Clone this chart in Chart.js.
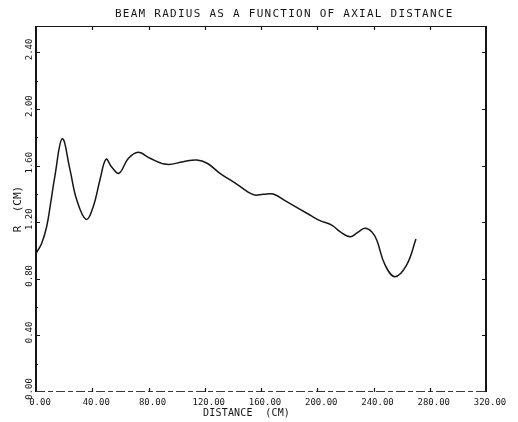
<!DOCTYPE html>
<html>
<head>
<meta charset="utf-8">
<script src="https://cdn.jsdelivr.net/npm/chart.js@4/dist/chart.umd.min.js"></script>
<style>
  html, body { margin: 0; padding: 0; background: #ffffff; }
  #wrap { width: 518px; height: 422px; position: relative; }
</style>
</head>
<body>
<div id="wrap"><canvas id="c" width="518" height="422"></canvas></div>
<script>
// Beam radius R (cm) against axial distance (cm)
const distance = [0, 4.0, 7.6, 10.5, 13.5, 18.7, 24.2, 28.9, 35.6, 40.7, 45.5, 49.8, 53.8, 59.0,
  65.6, 72.7, 81.1, 92.9, 104.7, 114.3, 122.0, 130.8, 142.7, 154.5, 161.6, 168.7, 178.3,
  194.8, 202.0, 210.3, 216.2, 223.3, 228.5, 233.9, 238.7, 242.3, 248.2, 255.3, 263.6, 270.2];
const radius = [0.98, 1.05, 1.17, 1.34, 1.53, 1.79, 1.57, 1.36, 1.22, 1.31, 1.50, 1.645, 1.59, 1.546,
  1.65, 1.694, 1.652, 1.609, 1.628, 1.64, 1.615, 1.546, 1.47, 1.395, 1.397, 1.399, 1.345,
  1.251, 1.211, 1.18, 1.133, 1.098, 1.126, 1.157, 1.133, 1.074, 0.898, 0.815, 0.898, 1.081];

const xTickValues = [0, 40, 80, 120, 160, 200, 240, 280, 320];
const yTickValues = [0, 0.4, 0.8, 1.2, 1.6, 2.0, 2.4];

const chartTitle = 'BEAM RADIUS AS A FUNCTION OF AXIAL DISTANCE';
const xTitle = 'DISTANCE  (CM)';
const yTitle = 'R  (CM)';

const MONO = '"DejaVu Sans Mono", "Liberation Mono", monospace';
const INK = '#161616';

// Plot frame, inward tick marks and the title lines
const framePlugin = {
  id: 'frame',
  afterDraw(chart) {
    const { ctx, chartArea: a, scales: { x, y } } = chart;
    ctx.save();
    ctx.strokeStyle = INK;
    ctx.lineCap = 'butt';

    // top edge
    ctx.lineWidth = 1.2;
    ctx.beginPath(); ctx.moveTo(a.left, a.top + 0.5); ctx.lineTo(a.right, a.top + 0.5); ctx.stroke();
    // bottom edge (broken pen line)
    ctx.strokeStyle = '#3a3a3a';
    ctx.lineWidth = 1;
    ctx.setLineDash([9, 3, 5, 3]);
    ctx.beginPath(); ctx.moveTo(a.left, a.bottom - 0.5); ctx.lineTo(a.right, a.bottom - 0.5); ctx.stroke();
    ctx.setLineDash([]);
    ctx.strokeStyle = INK;
    // left and right edges
    ctx.lineWidth = 2;
    ctx.beginPath(); ctx.moveTo(a.left, a.top); ctx.lineTo(a.left, a.bottom); ctx.stroke();
    ctx.beginPath(); ctx.moveTo(a.right, a.top); ctx.lineTo(a.right, a.bottom); ctx.stroke();

    // x ticks, pointing into the plot from top and bottom
    ctx.lineWidth = 1.2;
    xTickValues.slice(1, -1).forEach(v => {
      const px = Math.round(x.getPixelForValue(v)) + 0.5;
      ctx.beginPath();
      ctx.moveTo(px, a.bottom); ctx.lineTo(px, a.bottom - 4);
      ctx.moveTo(px, a.top); ctx.lineTo(px, a.top + 4);
      ctx.stroke();
    });
    // y ticks, pointing into the plot from left and right
    yTickValues.slice(1).forEach(v => {
      const py = Math.round(y.getPixelForValue(v)) + 0.5;
      ctx.beginPath();
      ctx.moveTo(a.left, py); ctx.lineTo(a.left + 4, py);
      ctx.moveTo(a.right, py); ctx.lineTo(a.right - 4, py);
      ctx.stroke();
    });
    // minor ticks on the left edge
    ctx.lineWidth = 1;
    yTickValues.slice(0, -1).forEach(v => {
      const py = Math.round(y.getPixelForValue(v + 0.2)) + 0.5;
      ctx.beginPath(); ctx.moveTo(a.left, py); ctx.lineTo(a.left + 2, py); ctx.stroke();
    });

    // chart title and x-axis title
    ctx.fillStyle = INK;
    ctx.textBaseline = 'middle';
    ctx.textAlign = 'left';
    ctx.font = '11px ' + MONO;
    if ('letterSpacing' in ctx) ctx.letterSpacing = '1.25px';
    ctx.fillText(chartTitle, 115, 14);
    ctx.font = '10px ' + MONO;
    if ('letterSpacing' in ctx) ctx.letterSpacing = '0.2px';
    ctx.fillText(xTitle, 203, 413);
    ctx.restore();
  }
};

new Chart(document.getElementById('c'), {
  type: 'line',
  data: {
    datasets: [{
      label: 'R',
      data: distance.map((d, i) => ({ x: d, y: radius[i] })),
      borderColor: INK,
      borderWidth: 1.5,
      pointRadius: 0,
      fill: false,
      tension: 0.4
    }]
  },
  options: {
    responsive: false,
    animation: false,
    devicePixelRatio: 1,
    layout: { padding: { top: 26, right: 32, left: 0, bottom: 0 } },
    plugins: {
      legend: { display: false },
      title: { display: false },
      tooltip: { enabled: false }
    },
    scales: {
      x: {
        type: 'linear',
        min: 0,
        max: 320,
        afterBuildTicks(s) { s.ticks = xTickValues.map(v => ({ value: v })); },
        afterFit(s) { s.height = 30; },
        grid: { display: false, drawTicks: false },
        border: { display: false },
        ticks: {
          autoSkip: false,
          maxRotation: 0,
          minRotation: 0,
          padding: 5,
          labelOffset: 4,
          color: INK,
          font: { family: MONO, size: 9 },
          callback: v => Number(v).toFixed(2)
        }
      },
      y: {
        type: 'linear',
        min: 0,
        max: 2.587,
        afterBuildTicks(s) { s.ticks = yTickValues.map(v => ({ value: v })); },
        afterFit(s) { s.width = 36; },
        grid: { display: false, drawTicks: false },
        border: { display: false },
        title: {
          display: true,
          text: yTitle,
          color: INK,
          font: { family: MONO, size: 11 },
          padding: { top: 12, bottom: 0 }
        },
        ticks: {
          autoSkip: false,
          minRotation: 90,
          maxRotation: 90,
          crossAlign: 'center',
          padding: -4,
          labelOffset: -3,
          color: INK,
          font: { family: MONO, size: 9 },
          callback: v => Number(v).toFixed(2)
        }
      }
    }
  },
  plugins: [framePlugin]
});
</script>
</body>
</html>
